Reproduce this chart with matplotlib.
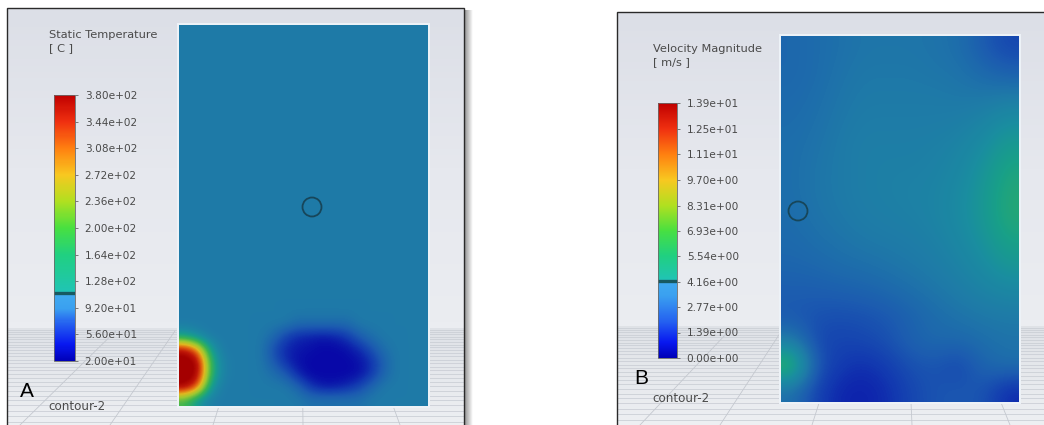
import numpy as np
import matplotlib
matplotlib.use('Agg')
import matplotlib.pyplot as plt
import matplotlib.colors as colors
from matplotlib.cm import ScalarMappable
from matplotlib.patches import Circle, Rectangle

W, H = 1044, 425

# ---- data ----
temp_title = 'Static Temperature'
temp_unit = '[ C ]'
temp_ticks = [20, 56, 92, 128, 164, 200, 236, 272, 308, 344, 380]
temp_labels = ['2.00e+01', '5.60e+01', '9.20e+01', '1.28e+02', '1.64e+02', '2.00e+02',
               '2.36e+02', '2.72e+02', '3.08e+02', '3.44e+02', '3.80e+02']
temp_marker = 112  # dark line on the legend bar

vel_title = 'Velocity Magnitude'
vel_unit = '[ m/s ]'
vel_ticks = [0.0, 1.39, 2.77, 4.16, 5.54, 6.93, 8.31, 9.70, 11.1, 12.5, 13.9]
vel_labels = ['0.00e+00', '1.39e+00', '2.77e+00', '4.16e+00', '5.54e+00', '6.93e+00',
              '8.31e+00', '9.70e+00', '1.11e+01', '1.25e+01', '1.39e+01']
vel_marker = 4.2

# temperature field, 20 columns x 30 rows (top to bottom), deg C
bg = 110
temp_bg_row = [bg] * 20
temp_rows_bottom = [
    [bg] * 20,
    [bg] * 9 + [95, 95, 95, 95, 95] + [bg] * 6,
    [160, 130, 110, 110, 110, 110, 110, 95, 60, 40, 35, 30, 35, 50, 80, 100, bg, bg, bg, bg],
    [360, 300, 160, 110, 110, 110, 110, 70, 40, 30, 25, 20, 20, 25, 40, 70, 100, bg, bg, bg],
    [400, 380, 200, 120, 110, 110, 110, 80, 45, 25, 20, 20, 20, 20, 25, 45, 85, bg, bg, bg],
    [400, 380, 200, 120, 110, 110, 110, 100, 80, 40, 20, 20, 20, 20, 25, 50, 90, bg, bg, bg],
    [380, 320, 160, 110, 110, 110, 110, 110, 110, 90, 50, 30, 30, 40, 60, 90, bg, bg, bg, bg],
    [200, 150, 115, 110, 110, 110, 110, 110, 110, 110, 100, 100, 100, 100, 100, bg, bg, bg, bg, bg],
]
temp_field = [temp_bg_row] * 22 + temp_rows_bottom

# velocity field, 10 columns x 15 rows (top to bottom), m/s
vel_field = [
    [2.7, 2.9, 3.1, 3.3, 3.3, 3.3, 3.2, 3.0, 2.2, 1.6],
    [2.7, 2.9, 3.2, 3.4, 3.4, 3.4, 3.3, 3.2, 2.8, 2.4],
    [2.8, 3.0, 3.3, 3.5, 3.5, 3.5, 3.5, 3.4, 3.4, 3.6],
    [2.9, 3.1, 3.4, 3.6, 3.6, 3.6, 3.6, 3.7, 4.0, 4.6],
    [3.0, 3.2, 3.5, 3.7, 3.7, 3.7, 3.8, 4.0, 4.5, 5.3],
    [3.0, 3.3, 3.5, 3.7, 3.8, 3.8, 3.9, 4.2, 4.9, 5.8],
    [3.0, 3.3, 3.5, 3.7, 3.8, 3.9, 4.0, 4.4, 5.1, 6.0],
    [2.9, 3.2, 3.4, 3.6, 3.7, 3.8, 4.0, 4.4, 5.1, 6.0],
    [2.8, 3.0, 3.2, 3.4, 3.5, 3.6, 3.8, 4.2, 4.8, 5.6],
    [2.6, 2.7, 2.9, 3.0, 3.2, 3.4, 3.6, 3.9, 4.4, 5.0],
    [2.3, 2.3, 2.4, 2.5, 2.7, 3.0, 3.3, 3.6, 3.9, 4.2],
    [2.1, 1.9, 1.8, 1.9, 2.1, 2.5, 2.9, 3.2, 3.4, 3.5],
    [3.6, 1.6, 1.5, 1.6, 1.9, 2.5, 2.8, 2.7, 3.0, 3.2],
    [7.2, 2.0, 1.2, 0.9, 1.3, 1.9, 2.0, 1.5, 2.6, 3.0],
    [3.0, 1.4, 0.7, 0.6, 0.9, 1.6, 2.0, 2.1, 2.0, 0.8],
]

# ---- colour maps ----
field_cmap = colors.LinearSegmentedColormap.from_list('field', [
    (0.00, '#0808a8'), (0.08, '#1238b0'), (0.16, '#1c5cb0'), (0.25, '#1f7aa8'),
    (0.33, '#1a8ea0'), (0.40, '#18a088'), (0.50, '#3cb450'), (0.62, '#a0c830'),
    (0.72, '#e0b820'), (0.82, '#e06010'), (0.92, '#c01808'), (1.00, '#a40000')])


def legend_cmap(cut):
    return colors.LinearSegmentedColormap.from_list('legend', [
        (0.00, '#0000b8'), (0.06, '#0818f0'), (0.14, '#2460f0'), (cut - 0.06, '#3aa0f0'),
        (cut - 0.004, '#40aaf0'), (cut + 0.004, '#20c4b4'), (0.40, '#20d080'),
        (0.50, '#48e040'), (0.60, '#b0e020'), (0.70, '#f8c820'), (0.80, '#ff8010'),
        (0.90, '#f03010'), (1.00, '#c00000')])


fig = plt.figure(figsize=(W / 100, H / 100), dpi=100, facecolor='white')
ax = fig.add_axes([0, 0, 1, 1])
ax.set_xlim(0, W)
ax.set_ylim(H, 0)
ax.set_axis_off()


def px_axes(x0, y0, x1, y1):
    return fig.add_axes([x0 / W, 1 - y1 / H, (x1 - x0) / W, (y1 - y0) / H])


def scene(x0, y0, x1, horizon):
    # wall gradient
    wall = np.linspace(0, 1, 50).reshape(-1, 1)
    wall_cmap = colors.LinearSegmentedColormap.from_list('wall', ['#dcdfe7', '#e6e8ee', '#ebedf1'])
    ax.imshow(wall, cmap=wall_cmap, extent=(x0, x1, horizon, y0), aspect='auto', zorder=0)
    floor_cmap = colors.LinearSegmentedColormap.from_list('floor', ['#dfe2e7', '#eef0f3'])
    ax.imshow(wall, cmap=floor_cmap, extent=(x0, x1, H + 5, horizon), aspect='auto', zorder=0)
    # floor grid
    ys, y, step = [], horizon + 2, 2.2
    while y < H + 5:
        ys.append(y)
        y += step
        step *= 1.04
    ax.hlines(ys, x0, x1, color='#cbcfd6', lw=0.6, zorder=1)
    # frame
    ax.plot([x0, x0, x1, x1], [H + 5, y0, y0, H + 5], color='#2a2a2a', lw=1.0, zorder=6,
            solid_joinstyle='miter')


def perspective(vp, bottoms, horizon):
    for xb in bottoms:
        t = (horizon + 3 - vp[1]) / (H - vp[1])
        xs = vp[0] + (xb - vp[0]) * t
        ax.plot([xs, xb], [horizon + 3, H], color='#c4c8cf', lw=0.6, zorder=1)


def panel(fx0, fy0, fx1, fy1, field, lo, hi, circle, cb_box, ticks, labels, marker, title,
          unit, tpos, letter, lpos, cpos):
    ax.add_patch(Rectangle((fx0 - 1, fy0 - 1), fx1 - fx0 + 2, fy1 - fy0 + 2,
                           facecolor='none', edgecolor='#eef3f8', lw=1.4, zorder=2))
    ax.imshow(np.array(field, dtype=float), cmap=field_cmap, norm=colors.Normalize(lo, hi),
              extent=(fx0, fx1, fy1, fy0), interpolation='bicubic',
              aspect='auto', zorder=3)
    ax.add_patch(Circle(circle, 9.5, facecolor='none', edgecolor='#17465a', lw=1.3, zorder=4))

    cax = px_axes(*cb_box)
    cut = (marker - lo) / (hi - lo)
    cb = fig.colorbar(ScalarMappable(norm=colors.Normalize(lo, hi), cmap=legend_cmap(cut)),
                      cax=cax, ticks=ticks)
    cb.set_ticklabels(labels)
    cb.outline.set_edgecolor('#6a6a6a')
    cb.outline.set_linewidth(0.6)
    cax.tick_params(length=2, width=0.7, color='#777777', labelsize=7.6, labelcolor='#4a4a4a',
                    pad=5)
    cax.axhline(marker, color='#175a62', lw=2.4)

    ax.text(tpos[0], tpos[1], title, fontsize=8.2, color='#4a4a4a', va='top', ha='left', zorder=7)
    ax.text(tpos[0], tpos[1] + 13, unit, fontsize=8.2, color='#4a4a4a', va='top', ha='left',
            zorder=7)
    ax.text(lpos[0], lpos[1], letter, fontsize=15, family='Liberation Sans', color='black',
            va='baseline', ha='left', zorder=7)
    ax.text(cpos[0], cpos[1], 'contour-2', fontsize=8.6, color='#4a4a4a', va='center',
            ha='left', zorder=7)


# ---- panel A ----
scene(7, 8, 464, 328)
shadow = np.linspace(0, 1, 20).reshape(1, -1)
ax.imshow(shadow, cmap=colors.LinearSegmentedColormap.from_list('sh', ['#9a9a9a', '#ffffff']),
          extent=(464.5, 472, H, 10), aspect='auto', zorder=5)
perspective((300, 150), [20, 110, 213, 303, 400], 328)

# ---- panel B ----
scene(617, 12, W + 5, 326)
perspective((900, 150), [640, 720, 812, 912, 1010], 326)

panel(179, 25, 428, 406, temp_field, 20, 380, (312, 207), (54, 95, 75, 361),
      temp_ticks, temp_labels, temp_marker, temp_title, temp_unit, (49, 30), 'A', (20, 397),
      (48, 407))
panel(781, 36, 1019, 402, vel_field, 0, 13.9, (798, 211), (658, 103, 677, 358),
      vel_ticks, vel_labels, vel_marker, vel_title, vel_unit, (653, 44), 'B', (634, 384),
      (652, 399))

fig.savefig('out.png', dpi=100, facecolor='white')
